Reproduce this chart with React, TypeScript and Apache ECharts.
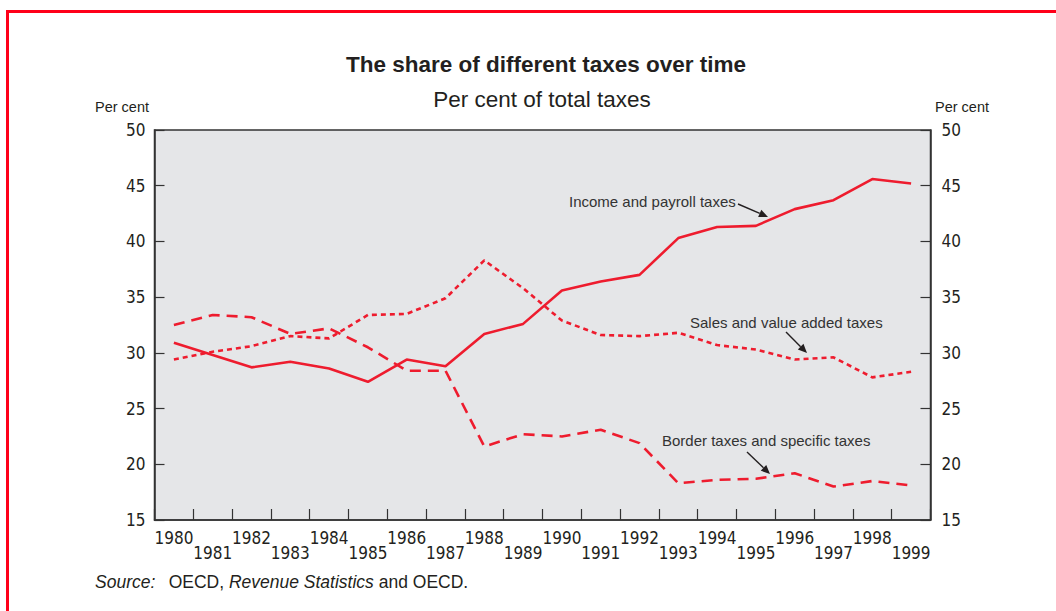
import React, { useEffect, useRef } from "react";
import * as echarts from "echarts";

const years = ["1980","1981","1982","1983","1984","1985","1986","1987","1988","1989","1990","1991","1992","1993","1994","1995","1996","1997","1998","1999"];
const incomePayroll = [30.9, 29.8, 28.7, 29.2, 28.6, 27.4, 29.4, 28.8, 31.7, 32.6, 35.6, 36.4, 37.0, 40.3, 41.3, 41.4, 42.9, 43.7, 45.6, 45.2];
const salesVat = [29.4, 30.1, 30.6, 31.5, 31.3, 33.4, 33.5, 34.9, 38.3, 35.8, 32.9, 31.6, 31.5, 31.8, 30.7, 30.3, 29.4, 29.6, 27.8, 28.3];
const borderSpecific = [32.5, 33.4, 33.2, 31.7, 32.2, 30.5, 28.4, 28.4, 21.6, 22.7, 22.5, 23.1, 21.9, 18.3, 18.6, 18.7, 19.2, 18.0, 18.5, 18.1];
const yMin = 15;
const yMax = 50;
const yStep = 5;

const RED = "#ee1c2e";
const INK = "#231f20";
const COND = "'DejaVu Sans Condensed', 'Liberation Sans Narrow', Arial, sans-serif";
const SANS = "'Liberation Sans', Arial, sans-serif";

function arrow(x1: number, y1: number, x2: number, y2: number) {
  const ang = Math.atan2(y2 - y1, x2 - x1);
  const L = 9, W = 4;
  const bx = x2 - L * Math.cos(ang), by = y2 - L * Math.sin(ang);
  const px = -Math.sin(ang) * W, py = Math.cos(ang) * W;
  return [
    { type: "line", shape: { x1, y1, x2: bx, y2: by }, style: { stroke: INK, lineWidth: 1.4 }, silent: true },
    { type: "polygon", shape: { points: [[x2, y2], [bx + px, by + py], [bx - px, by - py]] }, style: { fill: INK }, silent: true },
  ];
}

export default function App() {
  const ref = useRef<HTMLDivElement>(null);
  useEffect(() => {
    document.body.style.margin = "0";
    const chart = echarts.init(ref.current!, null, { renderer: "svg" });
    const yAxisCommon = {
      type: "value",
      min: yMin,
      max: yMax,
      interval: yStep,
      axisLine: { show: true, lineStyle: { color: "#333", width: 1.5 } },
      axisTick: { show: true, inside: true, length: 10, lineStyle: { color: "#333", width: 1.2 } },
      splitLine: { show: false },
      axisLabel: { color: INK, fontSize: 17, fontFamily: COND },
    };
    chart.setOption({
      animation: false,
      backgroundColor: "#ffffff",
      grid: {
        left: 154.5, right: 125.5, top: 130, bottom: 91,
        show: true, backgroundColor: "#e5e6e8", borderColor: "#333", borderWidth: 1.5,
      },
      xAxis: {
        type: "category",
        data: years,
        boundaryGap: true,
        axisLine: { show: true, lineStyle: { color: "#333", width: 1.5 } },
        axisTick: { show: true, inside: true, length: 11, alignWithLabel: false, lineStyle: { color: "#333", width: 1.2 } },
        axisLabel: {
          interval: 0,
          color: INK,
          fontSize: 17,
          lineHeight: 15,
          margin: 10,
          fontFamily: COND,
          formatter: (v: string, i: number) => (i % 2 === 1 ? "\n" + v : v),
        },
      },
      yAxis: [
        { ...yAxisCommon, position: "left", axisLabel: { ...yAxisCommon.axisLabel, margin: 9 } },
        { ...yAxisCommon, position: "right", axisLabel: { ...yAxisCommon.axisLabel, margin: 11 } },
      ],
      series: [
        { name: "Income and payroll taxes", type: "line", data: incomePayroll, symbol: "none", lineStyle: { color: RED, width: 2.6 } },
        { name: "Sales and value added taxes", type: "line", data: salesVat, symbol: "none", lineStyle: { color: RED, width: 2.6, type: [5, 4] } },
        { name: "Border taxes and specific taxes", type: "line", data: borderSpecific, symbol: "none", lineStyle: { color: RED, width: 2.6, type: [11, 7] } },
      ],
      graphic: [
        { type: "rect", shape: { x: 7.5, y: 11.5, width: 1200, height: 800 }, style: { fill: "none", stroke: "#ff0019", lineWidth: 3 }, silent: true },
        { type: "text", x: 546, y: 64, style: { text: "The share of different taxes over time", fill: INK, font: `bold 22.5px ${SANS}`, textAlign: "center", textVerticalAlign: "middle" } },
        { type: "text", x: 542, y: 99, style: { text: "Per cent of total taxes", fill: INK, font: `22.5px ${SANS}`, textAlign: "center", textVerticalAlign: "middle" } },
        { type: "text", x: 95, y: 107, style: { text: "Per cent", fill: INK, font: `14.5px ${SANS}`, textAlign: "left", textVerticalAlign: "middle" } },
        { type: "text", x: 935, y: 107, style: { text: "Per cent", fill: INK, font: `14.5px ${SANS}`, textAlign: "left", textVerticalAlign: "middle" } },
        { type: "text", x: 569, y: 201, style: { text: "Income and payroll taxes", fill: "#333", font: `15px ${SANS}`, textAlign: "left", textVerticalAlign: "middle" } },
        ...arrow(738, 204, 768, 217),
        { type: "text", x: 690, y: 322, style: { text: "Sales and value added taxes", fill: "#333", font: `15px ${SANS}`, textAlign: "left", textVerticalAlign: "middle" } },
        ...arrow(786, 332, 807, 353),
        { type: "text", x: 662, y: 440, style: { text: "Border taxes and specific taxes", fill: "#333", font: `15px ${SANS}`, textAlign: "left", textVerticalAlign: "middle" } },
        ...arrow(747, 452, 770, 474),
        {
          type: "text", x: 95, y: 582,
          style: {
            text: "{i|Source:}    {n|OECD, }{i|Revenue Statistics}{n| and OECD.}",
            textVerticalAlign: "middle",
            rich: {
              i: { fontStyle: "italic", fontSize: 17.5, fontFamily: SANS, fill: INK, color: INK },
              n: { fontSize: 17.5, fontFamily: SANS, fill: INK, color: INK },
            },
          },
        },
      ],
    });
    return () => chart.dispose();
  }, []);
  return <div ref={ref} style={{ width: 1056, height: 611 }} />;
}
